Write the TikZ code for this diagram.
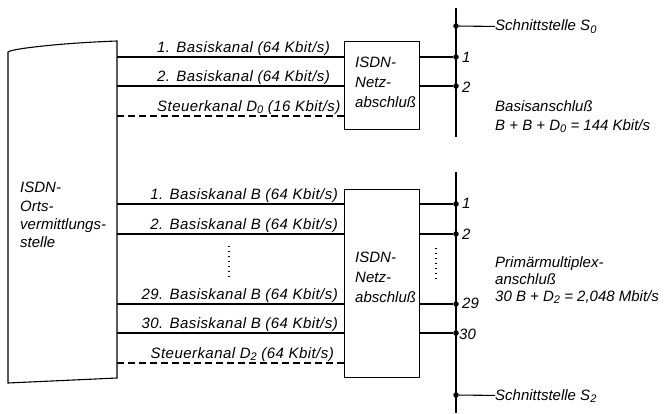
\documentclass[tikz,border=0pt]{standalone}
\usepackage{fontspec}
\setmainfont{Liberation Sans}
\newfontfamily\chanfont{Liberation Sans}[LetterSpace=3]
\newcommand\subsc[1]{\raisebox{-0.35ex}{\fontsize{11}{11}\selectfont #1}}
\begin{document}
\begin{tikzpicture}[x=1pt,y=-1pt,
  every node/.style={font=\fontsize{15}{18}\selectfont\itshape, inner sep=0pt},
  chan/.style={font=\fontsize{15}{18}\selectfont\chanfont\itshape},
  thin line/.style={line width=1.1pt},
  bus/.style={line width=1.8pt},
  dashline/.style={line width=1.1pt, dash pattern=on 7pt off 4pt},
  dotline/.style={line width=1.6pt, dash pattern=on 1.4pt off 3.6pt},
  dot/.style={circle, fill=black, minimum size=5.5pt, inner sep=0pt},
  box/.style={draw, line width=1.1pt, minimum width=75pt, anchor=north west}]
\useasboundingbox (0,0) rectangle (666,413);
\fill[white] (0,0) rectangle (666,413);

% left exchange box
\draw[thin line] (8,383) -- (8,52) .. controls (10,49) and (60,43) .. (117,41) -- (117,378) -- cycle;
\node[anchor=base west] (ov1) at (20,192) {ISDN-};
\node[anchor=base west] (ov2) at (20,211) {Orts-};
\node[anchor=base west] (ov3) at (20,229) {vermittlungs-};
\node[anchor=base west] (ov4) at (20,247) {stelle};

% network termination boxes
\node[box, minimum height=88pt] (nt1) at (344,41) {};
\node[box, minimum height=188pt] (nt2) at (344,189) {};
\node[anchor=base west] (na1) at (355,67) {ISDN-};
\node[anchor=base west] (na2) at (355,87) {Netz-};
\node[anchor=base west] (na3) at (355,107) {abschluß};
\node[anchor=base west] (nb1) at (355,262) {ISDN-};
\node[anchor=base west] (nb2) at (355,282) {Netz-};
\node[anchor=base west] (nb3) at (355,302) {abschluß};

% left box edge coordinates
\coordinate (o1) at (117,57);
\coordinate (o2) at (117,86);
\coordinate (o3) at (117,116);
\coordinate (q1) at (117,204);
\coordinate (q2) at (117,234);
\coordinate (q29) at (117,304);
\coordinate (q30) at (117,333);
\coordinate (qd) at (117,363);

\draw[thin line] (o1) -- (nt1.west |- o1);
\draw[thin line] (o2) -- (nt1.west |- o2);
\draw[dashline] (o3) -- (nt1.west |- o3);
\draw[thin line] (q1) -- (nt2.west |- q1);
\draw[thin line] (q2) -- (nt2.west |- q2);
\draw[thin line] (q29) -- (nt2.west |- q29);
\draw[thin line] (q30) -- (nt2.west |- q30);
\draw[dashline] (qd) -- (nt2.west |- qd);

% channel labels
\node[chan, anchor=base west] (c1) at (157,52) {1. Basiskanal (64 Kbit/s)};
\node[chan, anchor=base west] (c2) at (157,81) {2. Basiskanal (64 Kbit/s)};
\node[chan, anchor=base west] (c3) at (157,111) {Steuerkanal D\subsc{0} (16 Kbit/s)};
\node[chan, anchor=base east] (d1) at (338,199) {1. Basiskanal B (64 Kbit/s)};
\node[chan, anchor=base east] (d2) at (338,229) {2. Basiskanal B (64 Kbit/s)};
\node[chan, anchor=base east] (d29) at (338,299) {29. Basiskanal B (64 Kbit/s)};
\node[chan, anchor=base east] (d30) at (338,328) {30. Basiskanal B (64 Kbit/s)};
\node[chan, anchor=base east] (dd) at (334,358) {Steuerkanal D\subsc{2} (64 Kbit/s)};

\coordinate (v1) at (229,246);
\coordinate (v2) at (229,279);
\draw[dotline] (v1) -- (v2);
\coordinate (w1) at (436,248);
\coordinate (w2) at (436,280);
\draw[dotline] (w1) -- (w2);

% upper bus S0
\coordinate (bt) at (456,8);
\coordinate (bb) at (456,137);
\draw[bus] (bt) -- (bb);
\node[dot] (s0) at (456,26) {};
\node[dot] (p1) at (456,57) {};
\node[dot] (p2) at (456,86) {};
\node[anchor=west] (s0t) at (495,27) {Schnittstelle S\subsc{0}};
\draw[thin line] (s0) -- (s0t);
\draw[thin line] (nt1.east |- p1) -- (p1);
\draw[thin line] (nt1.east |- p2) -- (p2);
\node[anchor=west] (n1) at (462,57) {1};
\node[anchor=west] (n2) at (462,87) {2};
\node[anchor=base west] (ba1) at (495,111) {Basisanschluß};
\node[anchor=base west] (ba2) at (495,130) {B + B + D\subsc{0} = 144 Kbit/s};

% lower bus S2
\coordinate (ct) at (456,172);
\coordinate (cb) at (456,413);
\draw[bus] (ct) -- (cb);
\node[dot] (r1) at (456,204) {};
\node[dot] (r2) at (456,234) {};
\node[dot] (r29) at (456,304) {};
\node[dot] (r30) at (456,333) {};
\node[dot] (s2) at (456,395) {};
\draw[thin line] (nt2.east |- r1) -- (r1);
\draw[thin line] (nt2.east |- r2) -- (r2);
\draw[thin line] (nt2.east |- r29) -- (r29);
\draw[thin line] (nt2.east |- r30) -- (r30);
\node[anchor=west] (m1) at (462,203) {1};
\node[anchor=west] (m2) at (462,234) {2};
\node[anchor=west] (m29) at (462,303) {29};
\node[anchor=west] (m30) at (459,334) {30};
\node[anchor=west] (s2t) at (495,396) {Schnittstelle S\subsc{2}};
\draw[thin line] (s2) -- (s2t);
\node[anchor=base west] (pm1) at (495,267) {Primärmultiplex-};
\node[anchor=base west] (pm2) at (495,284) {anschluß};
\node[anchor=base west] (pm3) at (495,301) {30 B + D\subsc{2} = 2,048 Mbit/s};
\end{tikzpicture}
\end{document}
